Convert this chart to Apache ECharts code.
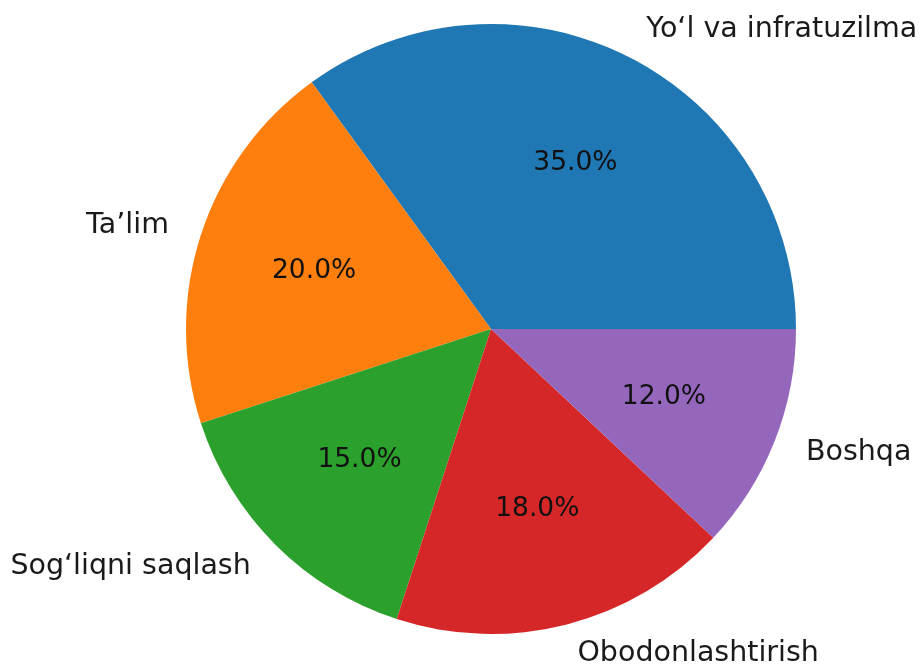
<!DOCTYPE html>
<html>
<head>
<meta charset="utf-8">
<script src="https://cdn.jsdelivr.net/npm/echarts@6/dist/echarts.min.js"></script>
<style>
  html, body { margin: 0; padding: 0; background: #fff; }
  #main { width: 920px; height: 668px; }
</style>
</head>
<body>
<div id="main"></div>
<script>
// sohalar va ulushlar
const categories = ['Yo‘l va infratuzilma', 'Ta’lim', 'Sog‘liqni saqlash', 'Obodonlashtirish', 'Boshqa']
const shares = [35, 20, 15, 18, 12]
const colors = ['#1f77b4', '#ff7f0e', '#2ca02c', '#d62728', '#9467bd']

const R = 305 // pie radius, px
const pieData = categories.map((name, i) => ({ name: name, value: shares[i], itemStyle: { color: colors[i] } }))

const myChart = echarts.init(document.getElementById('main'))
const option = {
  animation: false,
  textStyle: { fontFamily: 'DejaVu Sans' },
  series: [
    {
      // the actual pie, outer labels at 1.1 R
      type: 'pie',
      center: [491, 329],
      radius: [0, R],
      startAngle: 0,
      clockwise: false,
      avoidLabelOverlap: false,
      silent: true,
      data: pieData,
      label: {
        show: true,
        position: 'outside',
        formatter: '{b}',
        fontSize: 28.5,
        color: '#1a1a1a',
        distanceToLabelLine: 3,
        bleedMargin: 0,
        overflow: 'none'
      },
      labelLine: { show: false, length: R * 0.1, length2: 0 }
    },
    {
      // transparent copy so the 'inside' label lands at 0.6 R
      type: 'pie',
      center: [491, 329],
      radius: [0, R * 1.2],
      startAngle: 0,
      clockwise: false,
      silent: true,
      z: 3,
      data: shares.map((v, i) => ({ name: categories[i], value: v })),
      itemStyle: { color: 'rgba(0,0,0,0)' },
      label: {
        show: true,
        position: 'inside',
        fontSize: 26.5,
        color: '#111',
        formatter: p => p.percent.toFixed(1) + '%'
      },
      labelLine: { show: false }
    }
  ]
}
myChart.setOption(option)
</script>
</body>
</html>
